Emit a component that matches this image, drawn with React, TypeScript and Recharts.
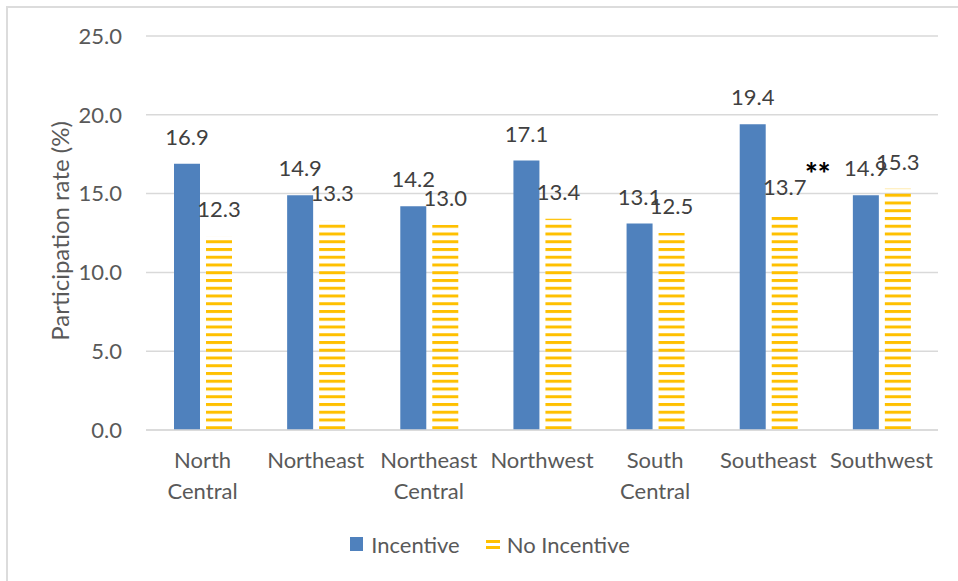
import { BarChart, Bar, XAxis, YAxis, CartesianGrid, LabelList, Legend } from 'recharts';

const regions = [
  'North\nCentral',
  'Northeast',
  'Northeast\nCentral',
  'Northwest',
  'South\nCentral',
  'Southeast',
  'Southwest',
];
const incentive = [16.9, 14.9, 14.2, 17.1, 13.1, 19.4, 14.9];
const noIncentive = [12.3, 13.3, 13.0, 13.4, 12.5, 13.7, 15.3];
const yTicks = [0, 5, 10, 15, 20, 25];

const data = regions.map((region, i) => ({
  region,
  incentive: incentive[i],
  noIncentive: noIncentive[i],
}));

const FONT = 'Lato, "Noto Sans", sans-serif';
const BLUE = '#4F81BD';
const GOLD = '#FFC000';
const AXIS_TEXT = '#595959';
const LABEL_TEXT = '#404040';
const GRID = '#D9D9D9';

function RegionTick({ x, y, payload }: any) {
  const lines = String(payload.value).split('\n');
  return (
    <text x={x} y={y} textAnchor="middle" fill={AXIS_TEXT} fontSize={22} fontFamily={FONT}>
      {lines.map((line, i) => (
        <tspan key={i} x={x} dy={i === 0 ? 38 : 31}>
          {line}
        </tspan>
      ))}
    </text>
  );
}

function YTitle({ viewBox }: any) {
  const cx = viewBox.x + 59;
  const cy = viewBox.y + viewBox.height / 2 - 2;
  return (
    <text
      x={cx}
      y={cy}
      transform={`rotate(-90 ${cx} ${cy})`}
      textAnchor="middle"
      dominantBaseline="central"
      fill={AXIS_TEXT}
      fontSize={24}
      fontFamily={FONT}
    >
      Participation rate (%)
    </text>
  );
}

function LegendContent({ payload }: any) {
  return (
    <div
      style={{
        display: 'flex',
        justifyContent: 'center',
        alignItems: 'center',
        height: 40,
        paddingLeft: 22,
        gap: 26,
        fontFamily: FONT,
        fontSize: 22,
        color: AXIS_TEXT,
      }}
    >
      {(payload || []).map((entry: any) => (
        <span key={entry.dataKey} style={{ display: 'flex', alignItems: 'center', gap: 7 }}>
          <svg width={14} height={14}>
            {entry.dataKey === 'incentive' ? (
              <rect x={0} y={0} width={13} height={14} fill={BLUE} />
            ) : (
              <g fill={GOLD}>
                <rect x={0} y={3} width={14} height={3} />
                <rect x={0} y={9} width={14} height={3} />
              </g>
            )}
          </svg>
          {entry.value}
        </span>
      ))}
    </div>
  );
}

export default function App() {
  return (
    <div
      style={{
        position: 'absolute',
        left: 0,
        top: 0,
        width: 958,
        height: 581,
        background: '#fff',
        overflow: 'hidden',
      }}
    >
      <div
        style={{
          position: 'absolute',
          left: 6,
          top: 6,
          width: 980,
          height: 600,
          borderTop: '2px solid #DCDCDC',
          borderLeft: '2px solid #DCDCDC',
        }}
      />
      <BarChart
        width={958}
        height={581}
        data={data}
        margin={{ top: 36, right: 20, left: 0, bottom: 0 }}
        barSize={26}
        barGap={6}
        style={{ position: 'absolute', left: 0, top: 0 }}
      >
        <defs>
          <pattern id="hstripes" patternUnits="userSpaceOnUse" width={10} height={7.75}>
            <rect x={0} y={0} width={10} height={3} fill={GOLD} />
          </pattern>
        </defs>
        <CartesianGrid vertical={false} stroke={GRID} strokeWidth={1.5} />
        <XAxis
          dataKey="region"
          height={111}
          tickSize={0}
          tickMargin={0}
          tickLine={false}
          axisLine={{ stroke: GRID, strokeWidth: 1.5 }}
          tick={<RegionTick />}
          interval={0}
        />
        <YAxis
          width={146}
          domain={[0, 25]}
          ticks={yTicks}
          tickFormatter={(v: number) => v.toFixed(1)}
          axisLine={false}
          tickLine={false}
          tickSize={0}
          tickMargin={24}
          tick={{ fill: AXIS_TEXT, fontSize: 22, fontFamily: FONT }}
          label={<YTitle />}
        />
        <Legend
          content={<LegendContent />}
          wrapperStyle={{ position: 'absolute', left: 0, top: 524, width: 958, height: 40 }}
        />
        <Bar dataKey="incentive" name="Incentive" fill={BLUE} isAnimationActive={false}>
          <LabelList
            dataKey="incentive"
            position="top"
            offset={19}
            formatter={(v: any) => Number(v).toFixed(1)}
            style={{ fill: LABEL_TEXT, fontSize: 22, fontFamily: FONT }}
          />
        </Bar>
        <Bar dataKey="noIncentive" name="No Incentive" fill="url(#hstripes)" isAnimationActive={false}>
          <LabelList
            dataKey="noIncentive"
            position="top"
            offset={19}
            formatter={(v: any) => Number(v).toFixed(1)}
            style={{ fill: LABEL_TEXT, fontSize: 22, fontFamily: FONT }}
          />
        </Bar>
      </BarChart>
      <div
        style={{
          position: 'absolute',
          left: 805,
          top: 158,
          fontFamily: FONT,
          fontWeight: 900,
          fontSize: 30,
          lineHeight: '30px',
          color: '#000',
        }}
      >
        **
      </div>
    </div>
  );
}
